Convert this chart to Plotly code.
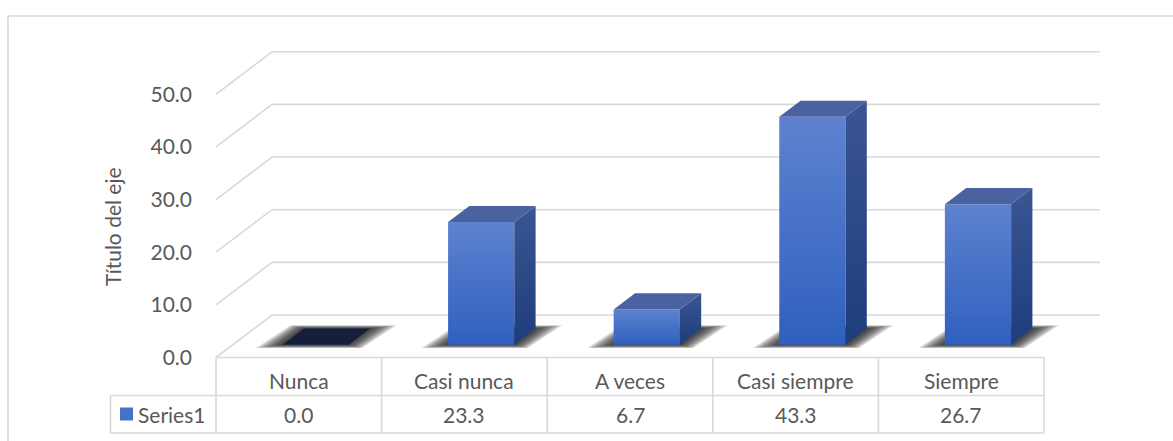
import plotly.graph_objects as go

# ---------------- data ----------------
categories = ["Nunca", "Casi nunca", "A veces", "Casi siempre", "Siempre"]
values = [0.0, 23.3, 6.7, 43.3, 26.7]
value_labels = ["0.0", "23.3", "6.7", "43.3", "26.7"]
y_ticks = [0, 10, 20, 30, 40, 50]
y_tick_labels = ["0.0", "10.0", "20.0", "30.0", "40.0", "50.0"]
series_name = "Series1"
axis_title = "Título del eje"

# ---------------- layout geometry ----------------
W, H = 1173, 441
PX_PER_CAT = 165.6          # pixels per category
PX_PER_VAL = 5.265          # pixels per value unit
FLOOR_LEFT_PX = 216
FLOOR_Y_PX = 357.5
DX = 56 / PX_PER_CAT        # depth offset (category units)
DY = 42.5 / PX_PER_VAL      # depth offset (value units)
BW = 0.2                    # half bar width (category units)
D0, D1 = 0.30, 0.68         # bar depth span (fraction of floor depth)

x_lo = -0.5 - FLOOR_LEFT_PX / PX_PER_CAT
x_hi = x_lo + W / PX_PER_CAT
y_hi = FLOOR_Y_PX / PX_PER_VAL
y_lo = y_hi - H / PX_PER_VAL


def px_to_y(py):
    return (FLOOR_Y_PX - py) / PX_PER_VAL


def px_to_x(px):
    return x_lo + px / PX_PER_CAT


FONT = "Lato"
FS = 21
TXT = "#595959"
GRID = "#d9d9d9"
n = len(categories)

fig = go.Figure()

# ---------------- walls / gridlines ----------------
gx, gy = [], []
for t in y_ticks:
    gx += [-0.5, -0.5 + DX, n - 0.5 + DX, None]
    gy += [t, t + DY, t + DY, None]
fig.add_trace(go.Scatter(x=gx, y=gy, mode="lines",
                         line=dict(color=GRID, width=1.6),
                         hoverinfo="skip", showlegend=False))

# ---------------- shadows ----------------
for i, v in enumerate(values):
    fl = (i - BW + D0 * DX, D0 * DY)
    fr = (i + BW + D0 * DX, D0 * DY)
    br = (i + BW + D1 * DX, D1 * DY)
    bl = (i - BW + D1 * DX, D1 * DY)
    for k in range(8, 0, -1):
        ex = k * 3.3 / PX_PER_CAT
        ey = k * 0.42 / PX_PER_VAL
        xs = [fl[0] - ex, fr[0] + ex * 0.5, br[0] + ex, bl[0] - ex * 0.5, fl[0] - ex]
        ys = [fl[1] - ey, fr[1] - ey, br[1] + ey, bl[1] + ey, fl[1] - ey]
        fig.add_trace(go.Scatter(x=xs, y=ys, mode="lines", fill="toself",
                                 fillcolor="rgba(25,25,25,0.17)",
                                 line=dict(width=0), hoverinfo="skip",
                                 showlegend=False))

# ---------------- 3D bars ----------------
for i, v in enumerate(values):
    xl, xr = i - BW + D0 * DX, i + BW + D0 * DX
    xbl, xbr = i - BW + D1 * DX, i + BW + D1 * DX
    yf, yb = D0 * DY, D1 * DY
    if v > 0:
        # front face
        fig.add_trace(go.Scatter(
            x=[xl, xr, xr, xl, xl], y=[yf, yf, v + yf, v + yf, yf],
            mode="lines", fill="toself", line=dict(width=0),
            fillgradient=dict(type="vertical",
                              colorscale=[[0, "#2f60bf"], [1, "#5e82cf"]]),
            hoverinfo="skip", showlegend=False))
        # right side face
        fig.add_trace(go.Scatter(
            x=[xr, xbr, xbr, xr, xr], y=[yf, yb, v + yb, v + yf, yf],
            mode="lines", fill="toself", line=dict(width=0),
            fillgradient=dict(type="vertical",
                              colorscale=[[0, "#1e3d7b"], [1, "#3a5693"]]),
            hoverinfo="skip", showlegend=False))
        top_color = "#4a63a0"
    else:
        top_color = "#14203b"
    # top face
    fig.add_trace(go.Scatter(
        x=[xl, xr, xbr, xbl, xl], y=[v + yf, v + yf, v + yb, v + yb, v + yf],
        mode="lines", fill="toself", fillcolor=top_color, line=dict(width=0),
        hoverinfo="skip", showlegend=False))

# ---------------- data table ----------------
row1_bot = px_to_y(395.5)
row2_bot = px_to_y(433)
cell_left = px_to_x(110.5)
shapes = []
line = dict(color=GRID, width=1.6)
shapes.append(dict(type="line", xref="x", yref="y", x0=-0.5, x1=n - 0.5, y0=0, y1=0, line=line))
shapes.append(dict(type="line", xref="x", yref="y", x0=cell_left, x1=n - 0.5, y0=row1_bot, y1=row1_bot, line=line))
shapes.append(dict(type="line", xref="x", yref="y", x0=cell_left, x1=n - 0.5, y0=row2_bot, y1=row2_bot, line=line))
shapes.append(dict(type="line", xref="x", yref="y", x0=cell_left, x1=cell_left, y0=row1_bot, y1=row2_bot, line=line))
for k in range(n + 1):
    shapes.append(dict(type="line", xref="x", yref="y", x0=k - 0.5, x1=k - 0.5, y0=0, y1=row2_bot, line=line))
# outer chart border
shapes.append(dict(type="rect", xref="paper", yref="paper", x0=8 / W, x1=1.2,
                   y0=-0.3, y1=1 - 16 / H, line=dict(color=GRID, width=1.6)))

annotations = []
y_cat = px_to_y(380)
y_val = px_to_y(414)
for i, (c, vl) in enumerate(zip(categories, value_labels)):
    annotations.append(dict(x=i, y=y_cat, xref="x", yref="y", text=c, showarrow=False,
                            font=dict(family=FONT, size=FS, color=TXT)))
    annotations.append(dict(x=i, y=y_val, xref="x", yref="y", text=vl, showarrow=False,
                            font=dict(family=FONT, size=FS, color=TXT)))
annotations.append(dict(x=px_to_x(136), y=y_val, xref="x", yref="y", text=series_name,
                        showarrow=False, xanchor="left",
                        font=dict(family=FONT, size=FS, color=TXT)))
annotations.append(dict(x=112 / W, y=1 - 227 / H, xref="paper", yref="paper",
                        text=axis_title, showarrow=False, textangle=-90,
                        xanchor="center", yanchor="middle",
                        font=dict(family=FONT, size=FS, color=TXT)))

# legend key square
fig.add_trace(go.Scatter(x=[px_to_x(126.5)], y=[px_to_y(414)], mode="markers",
                         marker=dict(symbol="square", size=13, color="#4472c4"),
                         hoverinfo="skip", showlegend=False))

fig.update_layout(
    width=W, height=H,
    margin=dict(l=0, r=0, t=0, b=0, pad=0),
    paper_bgcolor="white", plot_bgcolor="white",
    showlegend=False,
    shapes=shapes, annotations=annotations,
    xaxis=dict(range=[x_lo, x_hi], visible=False, fixedrange=True),
    yaxis=dict(range=[y_lo, y_hi], anchor="free", position=FLOOR_LEFT_PX / W,
               tickvals=y_ticks, ticktext=y_tick_labels, ticks="",
               showgrid=False, zeroline=False, showline=False,
               ticklabelstandoff=24, automargin=False,
               tickfont=dict(family=FONT, size=FS, color=TXT), fixedrange=True),
)

fig.write_html("out.html")
